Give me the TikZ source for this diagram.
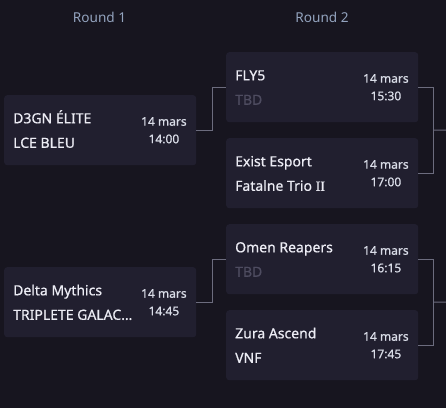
\documentclass[tikz,border=0pt]{standalone}
\usepackage{fontspec}
\setmainfont{Noto Sans}
\newfontfamily\medfont{Noto Sans}[FakeBold=0.7]
\newfontfamily\romanfont{Liberation Serif}[FakeBold=0.7]
\usetikzlibrary{calc}
\definecolor{bgc}{HTML}{17151F}
\definecolor{boxc}{HTML}{211F2F}
\definecolor{linec}{HTML}{6C6C7E}
\definecolor{namec}{HTML}{ECECF4}
\definecolor{tbdc}{HTML}{4E4C60}
\definecolor{roundc}{HTML}{93A3BE}
\definecolor{datec}{HTML}{DADDE8}
\tikzset{
  matchbox/.style={draw=none, fill=boxc, rounded corners=3pt, minimum width=192pt, minimum height=70pt, inner sep=0pt, anchor=north west},
  team/.style={anchor=base west, inner sep=0pt, text=namec, font=\medfont\fontsize{14}{16}\selectfont},
  tbd/.style={team, text=tbdc},
  datetxt/.style={anchor=base, inner sep=0pt, text=datec, font=\medfont\fontsize{12}{14}\selectfont},
  roundlbl/.style={anchor=base, inner sep=0pt, text=roundc, font=\fontsize{13.6}{16}\selectfont},
  conn/.style={draw=linec, line width=1pt}
}
\newcommand{\matchnode}[8]{%
  \node[matchbox] (#1) at (#2,#3) {};
  \node[team] (#1a) at ($(#1.north west)+(9,28.3)$) {#4};
  \node[#6] (#1b) at ($(#1.north west)+(9,52.8)$) {#5};
  \node[datetxt] (#1d) at ($(#1.north east)+(-32.5,30.7)$) {#7};
  \node[datetxt] (#1t) at ($(#1.north east)+(-32.5,48.2)$) {#8};
}
\begin{document}
\begin{tikzpicture}[x=1pt,y=-1pt]
\fill[bgc] (0,0) rectangle (446,408);
\useasboundingbox (0,0) rectangle (446,408);
\node[roundlbl] (h1) at (99.5,22.3) {Round 1};
\node[roundlbl] (h2) at (322,22.3) {Round 2};
\matchnode{m1}{4}{95}{D3GN ÉLITE}{LCE BLEU}{team}{14 mars}{14:00}
\matchnode{m2}{4}{267}{Delta Mythics}{TRIPLETE GALAC…}{team}{14 mars}{14:45}
\matchnode{ra}{226}{52}{FLY5}{TBD}{tbd}{14 mars}{15:30}
\matchnode{rb}{226}{138}{Exist Esport}{Fatalne Trio {\romanfont II}}{team}{14 mars}{17:00}
\matchnode{rc}{226}{224}{Omen Reapers}{TBD}{tbd}{14 mars}{16:15}
\matchnode{rd}{226}{310}{Zura Ascend}{VNF}{team}{14 mars}{17:45}
\draw[conn] (m1.east) -- ++(16,0) |- (ra.west);
\draw[conn] (m2.east) -- ++(16,0) |- (rc.west);
\draw[conn] (ra.east) -- ++(15,0) |- (rb.east);
\draw[conn] (rc.east) -- ++(15,0) |- (rd.east);
\coordinate (j1) at ($(ra.east)!0.5!(rb.east)+(15,0)$);
\coordinate (o1) at (446,130);
\coordinate (j2) at ($(rc.east)!0.5!(rd.east)+(15,0)$);
\coordinate (o2) at (446,302);
\draw[conn] (j1) -- (o1);
\draw[conn] (j2) -- (o2);
\end{tikzpicture}
\end{document}
